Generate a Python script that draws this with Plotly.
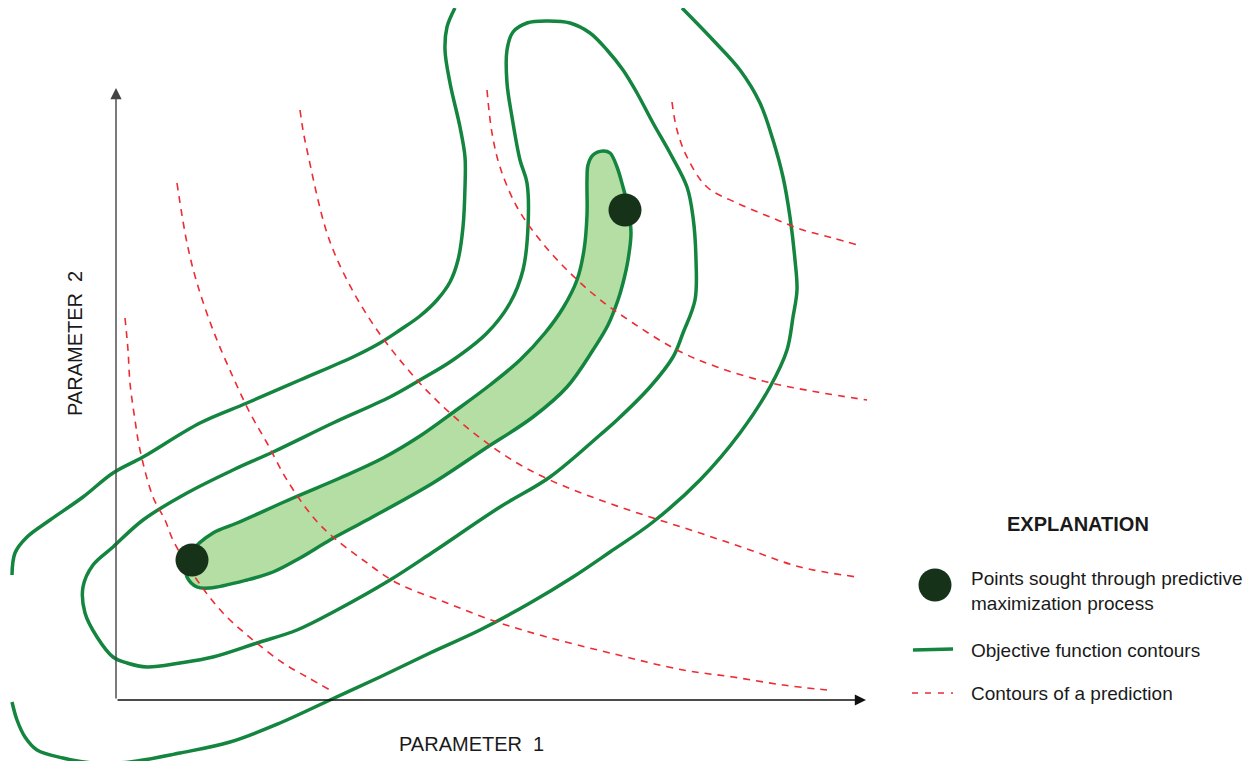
import plotly.graph_objects as go

# contour traces (x, y in picture units, y downwards)
outer_top_x = [455, 447, 445, 450, 460, 465, 465, 463, 458, 450, 437, 420, 400, 380, 353, 300, 247, 200, 143, 113, 83, 50, 27, 15, 12]
outer_top_y = [8, 27, 50, 83, 127, 157, 187, 227, 260, 282, 300, 316, 330, 343, 357, 380, 403, 423, 457, 473, 497, 520, 537, 553, 575]

outer_bot_x = [12, 17, 25, 37, 63, 93, 130, 180, 230, 280, 330, 380, 430, 480, 530, 573, 610, 653, 700, 740, 770, 787, 793, 797, 795, 790, 783, 773, 760, 740, 713, 682]
outer_bot_y = [702, 720, 737, 750, 758, 763, 762, 753, 742, 723, 700, 677, 653, 630, 603, 577, 552, 522, 480, 433, 387, 350, 317, 290, 260, 217, 177, 140, 103, 70, 40, 8]

middle_x = [507, 507, 513, 527, 547, 570, 590, 607, 623, 637, 653, 670, 687, 693, 696, 695, 683, 673, 650, 617, 600, 550, 500, 433, 390, 337, 297, 257, 213, 180, 147, 127, 113, 97, 85, 83, 93, 113, 143, 187, 233, 273, 333, 390, 420, 453, 487, 510, 523, 528, 527, 520, 512, 507]
middle_y = [83, 50, 32, 23, 21, 23, 33, 50, 70, 93, 123, 153, 187, 217, 260, 300, 333, 357, 387, 420, 435, 477, 507, 552, 580, 610, 630, 643, 657, 663, 667, 663, 657, 637, 613, 587, 565, 547, 520, 493, 470, 452, 423, 397, 380, 360, 333, 303, 270, 227, 183, 160, 117, 83]

inner_x = [187, 186, 192, 213, 237, 293, 340, 383, 420, 455, 490, 520, 545, 563, 577, 584, 587, 587, 588, 593, 603, 610, 617, 623, 628, 631, 628, 623, 618, 608, 593, 567, 533, 483, 433, 367, 330, 300, 273, 247, 210, 197, 187]
inner_y = [577, 565, 551, 533, 523, 498, 478, 458, 436, 411, 385, 360, 333, 308, 280, 250, 215, 180, 165, 155, 151, 153, 167, 187, 207, 233, 260, 283, 300, 325, 350, 387, 417, 450, 483, 520, 540, 558, 572, 580, 588, 587, 577]

pred1_x = [125, 128, 130, 135, 140, 153, 165, 173, 197, 223, 253, 283, 307, 330]
pred1_y = [318, 350, 383, 420, 450, 497, 520, 540, 580, 613, 640, 663, 677, 690]
pred2_x = [177, 187, 197, 213, 233, 250, 267, 287, 313, 333, 363, 397, 447, 497, 547, 610, 683, 733, 783, 827]
pred2_y = [183, 243, 283, 330, 377, 413, 443, 480, 517, 537, 560, 583, 603, 622, 637, 653, 670, 677, 685, 690]
pred3_x = [300, 303, 307, 327, 347, 377, 417, 450, 483, 517, 550, 600, 650, 700, 750, 800, 857]
pred3_y = [110, 130, 150, 233, 280, 330, 380, 413, 440, 463, 480, 500, 517, 533, 550, 567, 577]
pred4_x = [487, 492, 500, 517, 540, 567, 598, 633, 677, 717, 767, 817, 867]
pred4_y = [90, 133, 167, 207, 240, 270, 298, 323, 350, 367, 382, 392, 400]
pred5_x = [672, 677, 687, 707, 737, 770, 803, 833, 858]
pred5_y = [102, 130, 157, 187, 203, 217, 230, 238, 245]

points_x = [192, 625]
points_y = [560, 210]

GREEN = "#13853f"
RED = "#ee2a33"
DARK = "#163219"
FONT = "Liberation Sans Narrow, Arial Narrow, sans-serif"

fig = go.Figure()

green_line = dict(color=GREEN, width=3.5, shape="spline", smoothing=1.0)
red_line = dict(color=RED, width=1.6, dash="7px,6px", shape="spline", smoothing=1.0)

fig.add_trace(go.Scatter(x=inner_x, y=inner_y, mode="lines", fill="toself", fillcolor="#b5dea5", line=green_line))
for xs, ys in [(outer_top_x, outer_top_y), (outer_bot_x, outer_bot_y), (middle_x, middle_y)]:
    fig.add_trace(go.Scatter(x=xs, y=ys, mode="lines", line=green_line))
for xs, ys in [(pred1_x, pred1_y), (pred2_x, pred2_y), (pred3_x, pred3_y), (pred4_x, pred4_y), (pred5_x, pred5_y)]:
    fig.add_trace(go.Scatter(x=xs, y=ys, mode="lines", line=red_line))

fig.add_trace(go.Scatter(x=points_x, y=points_y, mode="markers", marker=dict(size=33, color=DARK)))

# legend symbols
fig.add_trace(go.Scatter(x=[935], y=[585], mode="markers", marker=dict(size=33, color=DARK)))
fig.add_trace(go.Scatter(x=[913, 953], y=[650, 649], mode="lines", line=dict(color=GREEN, width=3.5)))
fig.add_trace(go.Scatter(x=[912, 953], y=[693, 693], mode="lines", line=dict(color=RED, width=1.6, dash="6px,7px")))

# axes with arrows
axis_arrows = [
    dict(x=866, y=700, ax=116, ay=700, color="#111111"),
    dict(x=116, y=88, ax=116, ay=700, color="#444444"),
]
for a in axis_arrows:
    fig.add_annotation(x=a["x"], y=a["y"], ax=a["ax"], ay=a["ay"], xref="x", yref="y", axref="x", ayref="y",
                       showarrow=True, arrowhead=2, arrowsize=1.6, arrowwidth=1.4, arrowcolor=a["color"], text="")

texts = [
    dict(x=471, y=744, text="PARAMETER  1", size=20, angle=0, xanchor="center"),
    dict(x=75, y=344, text="PARAMETER  2", size=20, angle=-90, xanchor="center"),
    dict(x=1078, y=524, text="<b>EXPLANATION</b>", size=20, angle=0, xanchor="center"),
    dict(x=969, y=591, text="Points sought through predictive<br>maximization process", size=19, angle=0, xanchor="left"),
    dict(x=969, y=650, text="Objective function contours", size=19, angle=0, xanchor="left"),
    dict(x=969, y=693, text="Contours of a prediction", size=19, angle=0, xanchor="left"),
]
for t in texts:
    fig.add_annotation(x=t["x"], y=t["y"], text=t["text"], showarrow=False, textangle=t["angle"],
                       xanchor=t["xanchor"], yanchor="middle", align="left",
                       font=dict(family=FONT, size=t["size"], color="#1a1a1a"))

fig.update_xaxes(range=[8, 1250], visible=False)
fig.update_yaxes(range=[761, 8], visible=False)
fig.update_layout(
    width=1242,
    height=753,
    margin=dict(l=0, r=0, t=0, b=0),
    showlegend=False,
    plot_bgcolor="white",
    paper_bgcolor="white",
)

fig.write_html("out.html")
